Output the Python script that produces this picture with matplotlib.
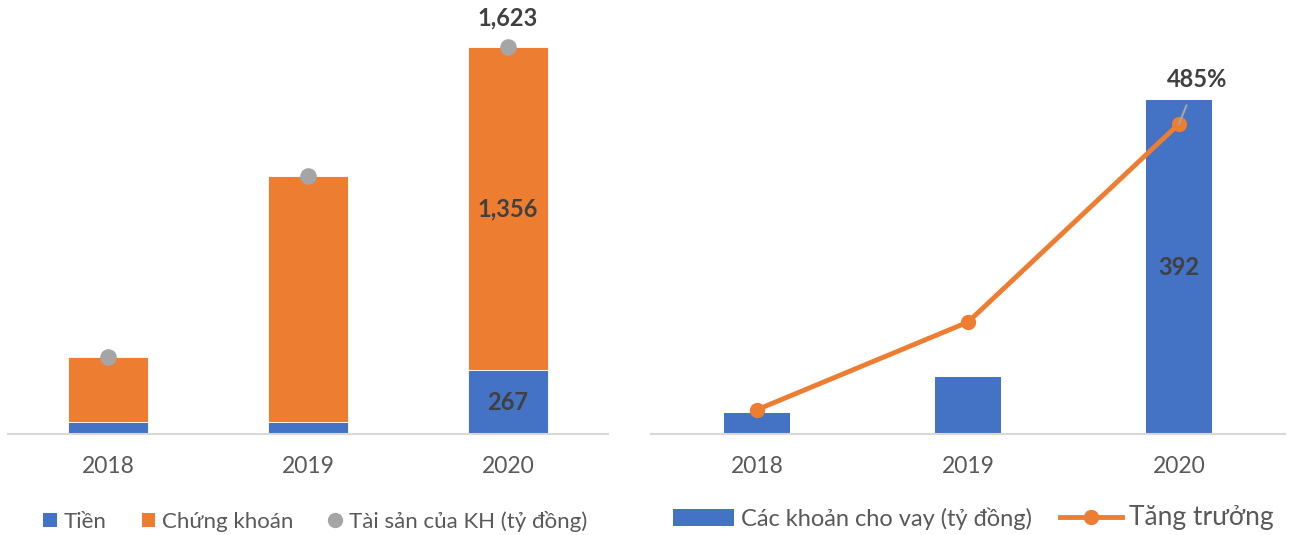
import matplotlib

matplotlib.use("Agg")
import matplotlib.pyplot as plt
from matplotlib.lines import Line2D
from matplotlib.patches import Patch
import numpy as np

years = ["2018", "2019", "2020"]
tien = [52, 52, 267]
chung_khoan = [271, 1030, 1356]
tai_san_kh = [323, 1082, 1623]
cho_vay = [25, 67, 392]
tang_truong = [38, 175, 485]

BLUE = "#4472c4"
ORANGE = "#ed7d31"
GRAY = "#a5a5a5"
TEXT = "#595959"
LABEL = "#404040"
AXIS = "#d9d9d9"

plt.rcParams["font.family"] = ["Lato", "DejaVu Sans"]

fig = plt.figure(figsize=(12.94, 5.35), dpi=100)
ax1 = fig.add_axes([8 / 1294, 101 / 535, 600 / 1294, 424 / 535])
ax2 = fig.add_axes([651.5 / 1294, 101 / 535, 633 / 1294, 424 / 535])
ax3 = ax2.twinx()

x = np.arange(len(years))


def style_axis(ax):
    for side in ("top", "right", "left"):
        ax.spines[side].set_visible(False)
    ax.spines["bottom"].set_color(AXIS)
    ax.spines["bottom"].set_linewidth(1.5)
    ax.set_yticks([])
    ax.set_xticks(x)
    ax.set_xticklabels(years)
    ax.tick_params(axis="x", length=0, pad=16, labelsize=16.5, labelcolor=TEXT)
    ax.set_xlim(-0.5, 2.5)


# left chart: stacked bars with total markers
ax1.bar(x, tien, width=0.4, color=BLUE, edgecolor="white", linewidth=0.6)
ax1.bar(x, chung_khoan, width=0.4, bottom=tien, color=ORANGE, edgecolor="white", linewidth=0.6)
ax1.scatter(x, tai_san_kh, s=120, color=GRAY, zorder=3)
ax1.set_ylim(0, 1778)
style_axis(ax1)

ax1.text(x[2], tien[2] / 2, f"{tien[2]:,}", ha="center", va="center",
         fontsize=17, fontweight="bold", color=LABEL)
ax1.text(x[2], tien[2] + chung_khoan[2] / 2, f"{chung_khoan[2]:,}", ha="center", va="center",
         fontsize=17, fontweight="bold", color=LABEL)
ax1.annotate(f"{tai_san_kh[2]:,}", (x[2], tai_san_kh[2]), xytext=(0, 21), textcoords="offset points",
             ha="center", va="center", fontsize=17, fontweight="bold", color=LABEL)

handles1 = [
    Patch(facecolor=BLUE, label="Tiền"),
    Patch(facecolor=ORANGE, label="Chứng khoán"),
    Line2D([], [], marker="o", linestyle="none", color=GRAY, markersize=10, label="Tài sản của KH (tỷ đồng)"),
]
fig.legend(handles=handles1, loc="center", bbox_to_anchor=(315 / 1294, 1 - 521 / 535), ncol=3,
           frameon=False, fontsize=16, labelcolor=TEXT, handlelength=0.6, handleheight=0.6,
           handletextpad=0.3, columnspacing=1.6)

# right chart: loans bars + growth line
ax2.bar(x, cho_vay, width=0.31, color=BLUE)
ax2.set_ylim(0, 498)
style_axis(ax2)
ax2.text(x[2], cho_vay[2] / 2, f"{cho_vay[2]}", ha="center", va="center",
         fontsize=17, fontweight="bold", color=LABEL)

ax3.plot(x, tang_truong, color=ORANGE, linewidth=3.5, marker="o", markersize=10, zorder=3)
ax3.set_ylim(0, 663)
ax3.set_yticks([])
for side in ("top", "right", "left", "bottom"):
    ax3.spines[side].set_visible(False)
ax3.annotate(f"{tang_truong[2]}%", (x[2], tang_truong[2]), xytext=(13, 32), textcoords="offset points",
             ha="center", va="center", fontsize=17, fontweight="bold", color=LABEL,
             arrowprops=dict(arrowstyle="-", color=GRAY, lw=1.5, shrinkA=9, shrinkB=0))

handles2 = [
    Patch(facecolor=BLUE, label="Các khoản cho vay (tỷ đồng)"),
    Line2D([], [], color=ORANGE, linewidth=3.5, marker="o", markersize=10, label="Tăng trưởng"),
]
leg2 = fig.legend(handles=handles2, loc="center", bbox_to_anchor=(973 / 1294, 1 - 518 / 535), ncol=2,
                  frameon=False, fontsize=17, labelcolor=TEXT, handlelength=2.6, handleheight=0.7,
                  handletextpad=0.3, columnspacing=1.2)
leg2.get_texts()[1].set_fontsize(19)

fig.savefig("out.png", dpi=100)
